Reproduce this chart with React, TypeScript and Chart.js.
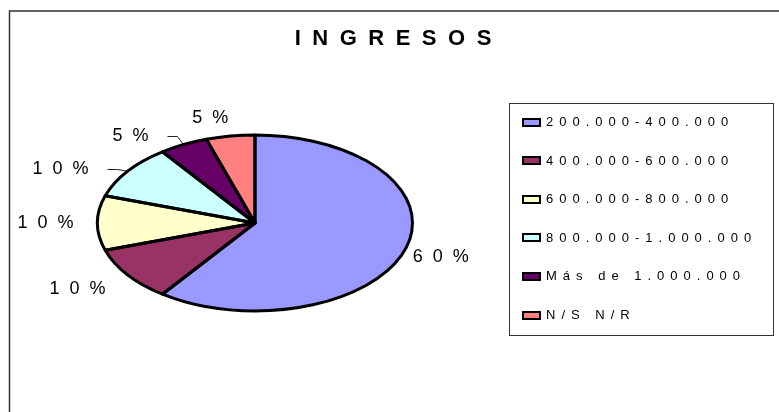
import React, { useEffect, useRef } from 'react';
import { Chart, registerables } from 'chart.js';

Chart.register(...registerables);

// ---- data ----
const TITLE = 'INGRESOS';
const categories = [
  '200.000-400.000',
  '400.000-600.000',
  '600.000-800.000',
  '800.000-1.000.000',
  'Más de 1.000.000',
  'N/S N/R',
];
const percentages = [60, 10, 10, 10, 5, 5];
const sliceColors = ['#9999FF', '#993366', '#FFFFCC', '#CCFFFF', '#660066', '#FF8080'];

// ---- layout / style ----
const W = 779;
const H = 412;
const PIE_CX = 255;
const PIE_CY = 223;
const PIE_R = 88; // vertical radius
const PIE_SX = 157.5 / 88; // horizontal stretch (ellipse)
const labelOffsets: [number, number][] = [
  [36, 7],
  [-50, 14],
  [-52, 0],
  [-67, -2],
  [-53, -9],
  [-20, -18],
];
const leaderFlags = [false, false, false, true, true, false];
const FONT = "Arial, 'Liberation Sans', sans-serif";
const LEGEND_BOX = { x: 509.5, y: 103.5, w: 264, h: 232 };
const LEGEND_ROW0 = 122;
const LEGEND_ROW_STEP = 38.6;

function spacedWidth(ctx: CanvasRenderingContext2D, text: string, sp: number) {
  const chars = [...text];
  let w = 0;
  for (const ch of chars) w += ctx.measureText(ch).width;
  return w + sp * Math.max(0, chars.length - 1);
}

function drawSpaced(
  ctx: CanvasRenderingContext2D,
  text: string,
  x: number,
  y: number,
  sp: number,
  align: 'left' | 'center' | 'right'
) {
  const w = spacedWidth(ctx, text, sp);
  let cx = align === 'center' ? x - w / 2 : align === 'right' ? x - w : x;
  ctx.textAlign = 'left';
  for (const ch of [...text]) {
    ctx.fillText(ch, cx, y);
    cx += ctx.measureText(ch).width + sp;
  }
  return w;
}

const ellipsePiePlugin = {
  id: 'ellipsePie',
  beforeDraw(chart: any) {
    const ctx: CanvasRenderingContext2D = chart.ctx;
    ctx.save();
    ctx.fillStyle = '#ffffff';
    ctx.fillRect(0, 0, W, H);
    // outer frame (left + top visible)
    ctx.strokeStyle = '#333333';
    ctx.lineWidth = 1.5;
    ctx.beginPath();
    ctx.moveTo(9.5, H + 5);
    ctx.lineTo(9.5, 11);
    ctx.lineTo(W + 5, 11);
    ctx.stroke();
    // title
    ctx.fillStyle = '#000';
    ctx.font = `bold 22px ${FONT}`;
    ctx.textBaseline = 'middle';
    drawSpaced(ctx, TITLE, 393, 39, 11.5, 'center');
    // legend
    ctx.strokeStyle = '#333333';
    ctx.lineWidth = 1;
    ctx.strokeRect(LEGEND_BOX.x, LEGEND_BOX.y, LEGEND_BOX.w, LEGEND_BOX.h);
    ctx.font = `13px ${FONT}`;
    const labels: string[] = chart.data.labels;
    const colors: string[] = chart.data.datasets[0].backgroundColor;
    labels.forEach((lab, i) => {
      const y = LEGEND_ROW0 + i * LEGEND_ROW_STEP;
      const mx = 522;
      ctx.fillStyle = '#000';
      ctx.fillRect(mx, Math.round(y - 4.5), 19, 9);
      ctx.fillStyle = colors[i];
      ctx.fillRect(mx + 2, Math.round(y - 4.5) + 2, 15, 5);
      ctx.fillStyle = '#000';
      drawSpaced(ctx, lab, 546, y + 0.5, 6, 'left');
    });
    ctx.restore();
  },
  beforeDatasetsDraw(chart: any) {
    const ctx: CanvasRenderingContext2D = chart.ctx;
    const arc = chart.getDatasetMeta(0).data[0];
    ctx.save();
    ctx.translate(arc.x, arc.y);
    ctx.scale(PIE_SX, 1);
    ctx.translate(-arc.x, -arc.y);
  },
  afterDatasetsDraw(chart: any) {
    const ctx: CanvasRenderingContext2D = chart.ctx;
    ctx.restore();
    const arcs = chart.getDatasetMeta(0).data;
    const values: number[] = chart.data.datasets[0].data;
    // outlines with uniform line width
    ctx.save();
    ctx.strokeStyle = '#000';
    ctx.lineWidth = 3;
    ctx.lineJoin = 'round';
    arcs.forEach((a: any) => {
      const p = a.getProps(['x', 'y', 'startAngle', 'endAngle', 'outerRadius']);
      ctx.beginPath();
      ctx.save();
      ctx.translate(p.x, p.y);
      ctx.scale(PIE_SX, 1);
      ctx.moveTo(0, 0);
      ctx.arc(0, 0, p.outerRadius, p.startAngle, p.endAngle);
      ctx.closePath();
      ctx.restore();
      ctx.stroke();
    });
    // labels
    ctx.font = `18px ${FONT}`;
    ctx.textBaseline = 'middle';
    ctx.fillStyle = '#000';
    arcs.forEach((a: any, i: number) => {
      const p = a.getProps(['x', 'y', 'startAngle', 'endAngle', 'outerRadius']);
      const mid = (p.startAngle + p.endAngle) / 2;
      const ex = p.x + Math.cos(mid) * p.outerRadius * PIE_SX;
      const ey = p.y + Math.sin(mid) * p.outerRadius;
      const lx = ex + labelOffsets[i][0];
      const ly = ey + labelOffsets[i][1];
      const text = `${values[i]}%`;
      const w = drawSpaced(ctx, text, lx, ly, 10, 'center');
      if (leaderFlags[i]) {
        const sx = lx + w / 2 + 19;
        ctx.save();
        ctx.strokeStyle = '#222';
        ctx.lineWidth = 1;
        ctx.beginPath();
        ctx.moveTo(sx, Math.round(ly) + 0.5);
        ctx.lineTo(sx + 10, Math.round(ly) + 0.5);
        ctx.lineTo(ex, ey);
        ctx.stroke();
        ctx.restore();
      }
    });
    ctx.restore();
  },
};

export default function App() {
  const ref = useRef<HTMLCanvasElement | null>(null);
  useEffect(() => {
    if (!ref.current) return;
    const chart = new Chart(ref.current, {
      type: 'pie',
      data: {
        labels: categories,
        datasets: [
          {
            data: percentages,
            backgroundColor: sliceColors,
            borderWidth: 0,
            radius: PIE_R,
          } as any,
        ],
      },
      options: {
        responsive: false,
        animation: false,
        devicePixelRatio: 1,
        events: [],
        layout: {
          padding: {
            left: PIE_CX - 100,
            right: W - (PIE_CX + 100),
            top: PIE_CY - 100,
            bottom: H - (PIE_CY + 100),
          },
        },
        plugins: {
          legend: { display: false },
          title: { display: false },
          tooltip: { enabled: false },
        },
      },
      plugins: [ellipsePiePlugin],
    });
    return () => chart.destroy();
  }, []);
  return (
    <div style={{ position: 'fixed', left: 0, top: 0, width: W, height: H, background: '#fff' }}>
      <canvas ref={ref} width={W} height={H} style={{ display: 'block' }} />
    </div>
  );
}
